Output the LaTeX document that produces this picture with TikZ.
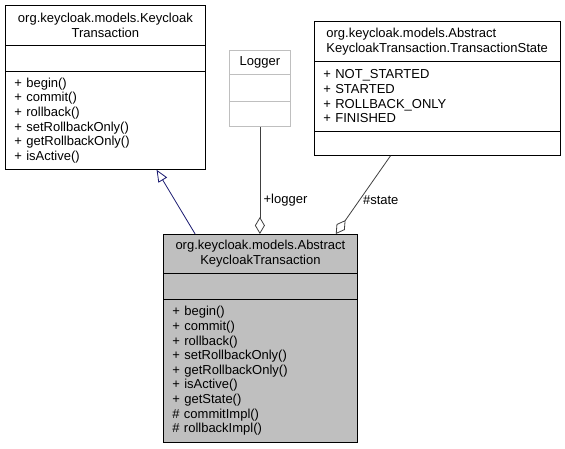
\documentclass[tikz,border=0pt]{standalone}
\usepackage{fontspec}
\setmainfont{Liberation Sans}
\usetikzlibrary{arrows.meta,calc}

\definecolor{boxgray}{HTML}{BFBFBF}
\definecolor{inhblue}{HTML}{191970}
\definecolor{aggline}{HTML}{404040}

\tikzset{
    head/.style={text width=#1, align=center},
    body/.style={text width=#1, align=left, inner xsep=9pt},
    inherit/.style={inhblue, line width=0.8pt, -{Triangle[open, length=12pt, width=10pt]}},
    aggregate/.style={aggline, line width=0.8pt, {Diamond[open, length=17pt, width=10pt]}-}
}

\begin{document}
\begin{tikzpicture}[x=1pt, y=-1pt, font=\fontsize{13}{14.6}\selectfont]
                \fill[white] (0,0) rectangle (565,448);
                \useasboundingbox (0,0) rectangle (565,448);

                \begin{scope}[
                        every node/.style={draw, line width=0.8pt, rectangle, anchor=north west, inner sep=0pt}
                    ]

                    \node[head=200pt, minimum height=40pt] (kt1) at (5,5) {org.keycloak.models.Keycloak\\Transaction};
                    \node[head=200pt, minimum height=26pt] (kt2) at (5,45) {};
                    \node[body=182pt, minimum height=98pt] (kt3) at (5,71) {+ begin()\\+ commit()\\+ rollback()\\+ setRollbackOnly()\\+ getRollbackOnly()\\+ isActive()};

                    \node[head=61pt, minimum height=24pt, draw=boxgray] (lg1) at (229,50) {Logger};
                    \node[head=61pt, minimum height=27pt, draw=boxgray] (lg2) at (229,74) {};
                    \node[head=61pt, minimum height=25pt, draw=boxgray] (lg3) at (229,101) {};

                    \node[body=222pt, inner xsep=12pt, minimum height=40pt] (ts1) at (314,21) {org.keycloak.models.Abstract\\KeycloakTransaction.TransactionState};
                    \node[body=228pt, minimum height=70pt] (ts2) at (314,61) {+ NOT\_STARTED\\+ STARTED\\+ ROLLBACK\_ONLY\\+ FINISHED};
                    \node[head=246pt, minimum height=24pt] (ts3) at (314,131) {};

                    \node[head=194pt, minimum height=39pt, fill=boxgray] (akt1) at (163,234) {org.keycloak.models.Abstract\\KeycloakTransaction};
                    \node[head=194pt, minimum height=26pt, fill=boxgray] (akt2) at (163,273) {};
                    \node[body=176pt, minimum height=143pt, fill=boxgray] (akt3) at (163,299) {+ begin()\\+ commit()\\+ rollback()\\+ setRollbackOnly()\\+ getRollbackOnly()\\+ isActive()\\+ getState()\\\# commitImpl()\\\# rollbackImpl()};
                \end{scope}

                \draw[inherit] ($(akt1.north west)!0.165!(akt1.north east)$) -- ($(kt3.south west)!0.755!(kt3.south east)$);
                \draw[aggregate] (akt1.north -| lg3.south) -- node[pos=0.32, right, text=black] {+logger} (lg3.south);
                \draw[aggregate] ($(akt1.north west)!0.887!(akt1.north east)$) -- node[pos=0.43, right, text=black] {\#state} ($(ts3.south west)!0.31!(ts3.south east)$);
            \end{tikzpicture}
\end{document}
